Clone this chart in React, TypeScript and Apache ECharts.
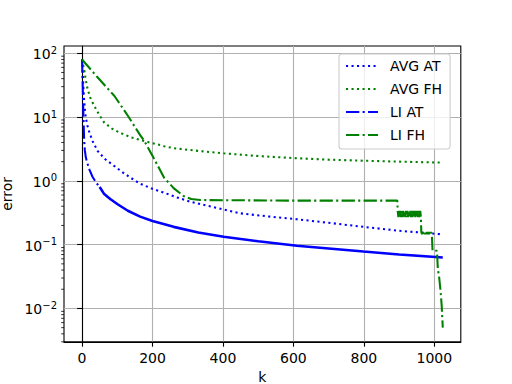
import React, { useEffect, useRef } from 'react';
import * as echarts from 'echarts';

// ---- data ----
const kAvgAt = [0, 2, 4, 6, 9, 14, 21, 30, 44, 65, 92, 120, 140, 165, 200, 233, 270, 307, 380, 449, 520, 610, 700, 799, 900, 1024];
const avgAt = [80, 48, 28, 18, 11.5, 7.8, 5.7, 4.2, 2.95, 2.2, 1.7, 1.3, 1.1, 0.9, 0.75, 0.65, 0.55, 0.47, 0.38, 0.31, 0.28, 0.25, 0.22, 0.19, 0.165, 0.145];

const kAvgFh = [0, 3, 6, 10, 16, 25, 35, 48, 63, 85, 110, 140, 177, 233, 260, 330, 402, 500, 610, 700, 799, 900, 1024];
const avgFh = [80, 66, 56, 40, 27, 19, 14.9, 11, 8.2, 6.6, 5.6, 4.8, 4.2, 3.5, 3.25, 2.95, 2.7, 2.45, 2.26, 2.15, 2.07, 2.0, 1.93];

// LI AT: early part drawn dash-dot, later part is a dense (noisy) band that reads as solid
const kLiAtHead = [0, 1, 2, 3, 4, 5, 6, 8, 11, 15, 21, 30, 40, 50];
const liAtHead = [80, 50, 30, 17, 10.5, 6.5, 4.3, 3.0, 2.3, 1.9, 1.5, 1.15, 0.94, 0.8];
const kLiAtTail = [50, 63, 80, 101, 130, 165, 200, 260, 330, 402, 500, 610, 700, 799, 900, 1024];
const liAtTail = [0.8, 0.62, 0.52, 0.43, 0.34, 0.275, 0.235, 0.19, 0.155, 0.133, 0.113, 0.096, 0.087, 0.078, 0.07, 0.063];

const kLiFh = [
  0, 44, 92, 130, 165, 177, 203, 233, 260, 288, 310, 335, 600, 895,
  896, 898, 900, 902, 904, 906, 908, 910, 912, 914, 916, 918, 920, 922, 924, 926, 928, 930,
  932, 934, 936, 938, 940, 942, 944, 946, 948, 950, 952, 954, 956, 958, 960, 962,
  963, 965, 967, 969, 971, 973, 975, 977, 979, 981, 983, 985, 987, 989, 991, 993,
  995, 1007, 1008, 1010, 1014, 1018, 1021, 1024,
];
const liFh = [
  80, 42, 21.4, 10.5, 5.2, 4.2, 2.3, 1.12, 0.77, 0.58, 0.52, 0.5, 0.49, 0.49,
  0.34, 0.27, 0.34, 0.27, 0.34, 0.27, 0.34, 0.27, 0.34, 0.27, 0.34, 0.27, 0.34, 0.27, 0.34, 0.27, 0.34, 0.27,
  0.34, 0.27, 0.34, 0.27, 0.34, 0.27, 0.34, 0.27, 0.34, 0.27, 0.34, 0.27, 0.34, 0.27, 0.34, 0.27,
  0.158, 0.146, 0.158, 0.146, 0.158, 0.146, 0.158, 0.146, 0.158, 0.146, 0.158, 0.146, 0.158, 0.146, 0.158, 0.146,
  0.08, 0.08, 0.07, 0.042, 0.03, 0.018, 0.011, 0.005,
];

const xTicks = [0, 200, 400, 600, 800, 1000];
const yTicks = [0.01, 0.1, 1, 10, 100];
const yMinorTicks = [
  0.003, 0.004, 0.005, 0.006, 0.007, 0.008, 0.009,
  0.02, 0.03, 0.04, 0.05, 0.06, 0.07, 0.08, 0.09,
  0.2, 0.3, 0.4, 0.5, 0.6, 0.7, 0.8, 0.9,
  2, 3, 4, 5, 6, 7, 8, 9,
  20, 30, 40, 50, 60, 70, 80, 90,
];
const seriesNames = ['AVG AT', 'AVG FH', 'LI AT', 'LI FH'];

const FONT = 'DejaVu Sans';
const BLUE = '#0000ff';
const GREEN = '#008000';
const DOTTED = [2.1, 3.4];
const DASHDOT = [13.3, 3.3, 2.1, 3.3];
const X_MIN = -51.2;
const X_MAX = 1075.2;

const zip = (ks: number[], vs: number[]) => ks.map((k, i) => [k, vs[i]]);

function fmtY(v: number): string {
  const l = Math.log10(v);
  const e = Math.round(l);
  if (Math.abs(l - e) > 1e-6) return '';
  const s = e < 0 ? '\u2212' + String(-e) : String(e);
  return `{b|10}{s|${s}}`;
}

export default function App() {
  const ref = useRef<HTMLDivElement>(null);
  useEffect(() => {
    if (!ref.current) return;
    const chart = echarts.init(ref.current, null, { renderer: 'svg' });
    const mk = (name: string, ks: number[], vs: number[], color: string, dash: any, width = 2.08) => ({
      name,
      type: 'line',
      data: zip(ks, vs),
      symbol: 'none',
      showSymbol: false,
      lineStyle: { color, width, type: dash, cap: 'butt' },
      itemStyle: { color },
    });
    chart.setOption({
      animation: false,
      backgroundColor: '#ffffff',
      textStyle: { fontFamily: FONT },
      grid: {
        left: 64,
        right: 51.2,
        top: 46,
        bottom: 42.2,
        show: true,
        borderColor: '#000000',
        borderWidth: 1.1,
        containLabel: false,
        outerBoundsMode: 'none',
      },
      legend: {
        orient: 'vertical',
        left: 339,
        top: 54,
        data: seriesNames,
        itemWidth: 32,
        itemHeight: 14,
        itemGap: 9,
        padding: [5, 8, 7, 6],
        itemStyle: { opacity: 0 },
        backgroundColor: 'rgba(255,255,255,0.8)',
        borderColor: '#cccccc',
        borderWidth: 1.1,
        borderRadius: 3,
        textStyle: { fontFamily: FONT, fontSize: 14, color: '#000000', padding: [0, 0, 0, 7] },
      },
      xAxis: {
        type: 'value',
        min: X_MIN,
        max: X_MAX,
        name: 'k',
        nameLocation: 'middle',
        nameGap: 27,
        nameTextStyle: { fontFamily: FONT, fontSize: 14, color: '#000000' },
        axisLine: { show: true, lineStyle: { color: '#000000', width: 1.1 } },
        axisTick: { show: true, inside: false, length: 4.9, customValues: xTicks, lineStyle: { color: '#000000', width: 1.1 } },
        axisLabel: {
          show: true,
          margin: 9,
          customValues: xTicks,
          formatter: (v: number) => String(v),
          fontFamily: FONT,
          fontSize: 14,
          color: '#000000',
        },
        splitLine: { show: true, lineStyle: { color: '#b0b0b0', width: 1.1 } },
      },
      yAxis: {
        type: 'log',
        logBase: 10,
        min: 0.003,
        max: 130,
        name: 'error',
        nameLocation: 'middle',
        nameGap: 48,
        nameTextStyle: { fontFamily: FONT, fontSize: 14, color: '#000000' },
        axisLine: { show: true, lineStyle: { color: '#000000', width: 1.1 } },
        axisTick: { show: true, inside: false, length: 4.9, customValues: yTicks, lineStyle: { color: '#000000', width: 1.1 } },
        axisLabel: {
          show: true,
          margin: 7,
          customValues: yTicks,
          formatter: fmtY,
          rich: {
            b: { fontFamily: FONT, fontSize: 14, color: '#000000', lineHeight: 16, verticalAlign: 'bottom' },
            s: { fontFamily: FONT, fontSize: 10, color: '#000000', lineHeight: 8, verticalAlign: 'top' },
          },
        },
        splitLine: { show: true, lineStyle: { color: '#b0b0b0', width: 1.1 } },
      },
      series: [
        mk('AVG AT', kAvgAt, avgAt, BLUE, DOTTED),
        mk('AVG FH', kAvgFh, avgFh, GREEN, DOTTED),
        mk('LI AT', kLiAtHead, liAtHead, BLUE, DASHDOT),
        mk('LI AT', kLiAtTail, liAtTail, BLUE, 'solid', 2.6),
        mk('LI FH', kLiFh, liFh, GREEN, DASHDOT),
        {
          name: 'minor-ticks',
          type: 'custom',
          clip: false,
          silent: true,
          z: 10,
          data: yMinorTicks.map((v) => [X_MIN, v]),
          renderItem: (params: any, api: any) => {
            const p = api.coord([api.value(0), api.value(1)]);
            return {
              type: 'line',
              shape: { x1: p[0] - 2.8, y1: p[1], x2: p[0], y2: p[1] },
              style: { stroke: '#000000', lineWidth: 0.8 },
            };
          },
        },
      ],
    });
    return () => chart.dispose();
  }, []);
  return <div ref={ref} style={{ position: 'fixed', left: 0, top: 0, width: 512, height: 384 }} />;
}
